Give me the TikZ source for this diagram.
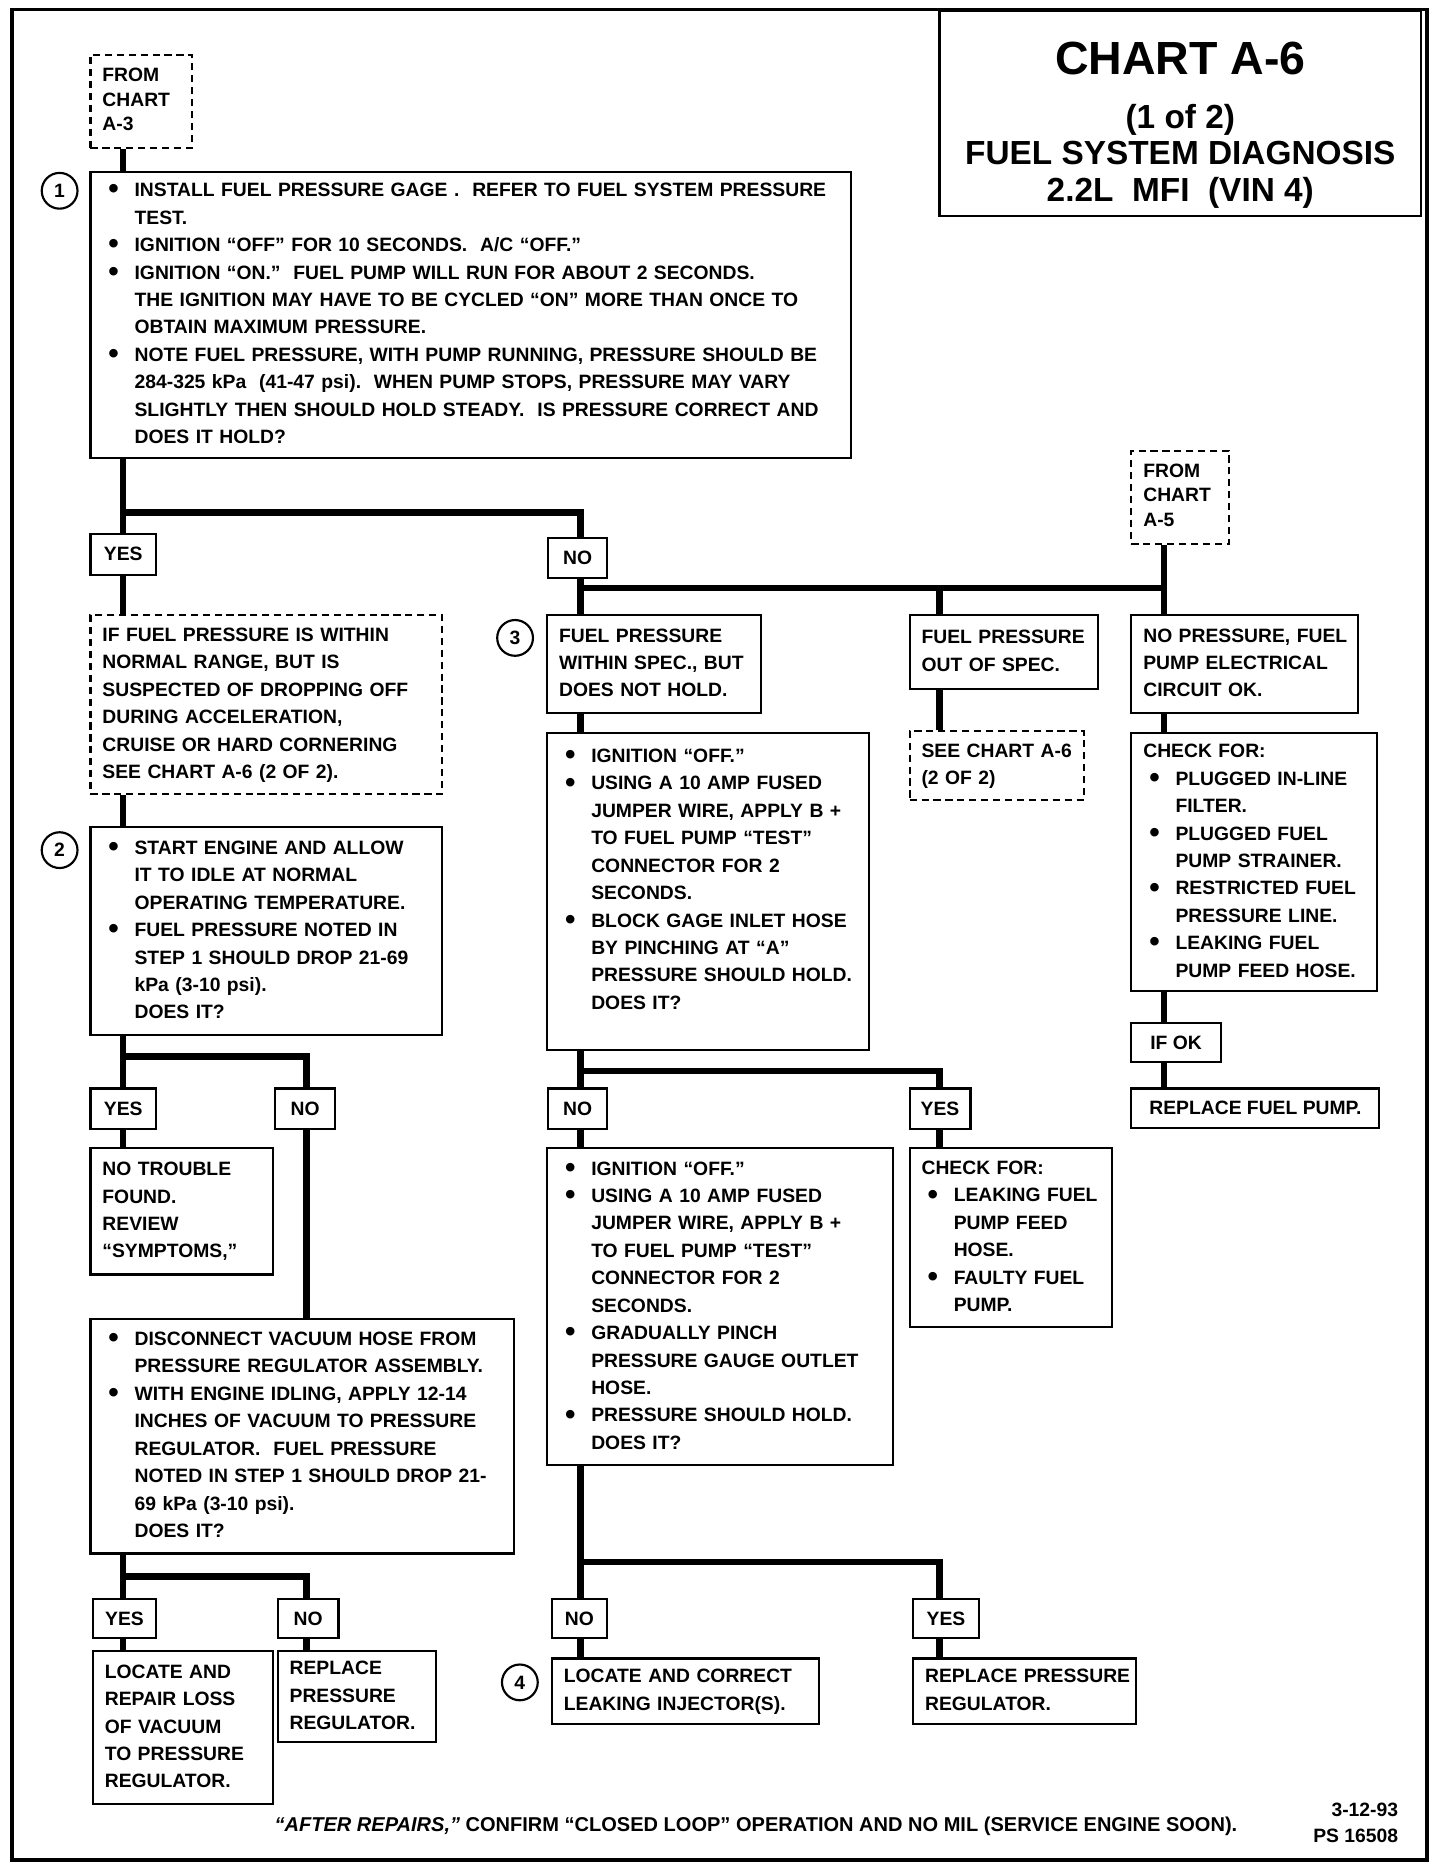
\documentclass[tikz,border=0pt]{standalone}
\usepackage{fontspec}
\setmainfont{Liberation Sans}
\usepackage{array}
\newcolumntype{B}{@{\hspace{2.5pt}}p{11pt}@{}l@{}}
\newcolumntype{T}{@{}l@{}}
\newcommand{\bu}{\raisebox{-0.9pt}{\fontsize{12.5}{12}\selectfont •}}
\begin{document}
\begin{tikzpicture}[x=0.5pt,y=-0.5pt,font=\fontsize{8.1}{11.5}\selectfont\bfseries]
\tikzset{
  conn/.style={line width=2.7pt, line join=miter},
  tbox/.style 2 args={draw, line width=0.9pt, anchor=north west, inner xsep=5pt, inner ysep=0pt,
    minimum width={#1*0.5pt}, minimum height={#2*0.5pt}, text width={#1*0.5pt-10pt}, align=left},
  dbox/.style 2 args={tbox={#1}{#2}, dash pattern=on 3pt off 2pt},
  lab/.style 2 args={draw, line width=0.9pt, anchor=north west, inner sep=0pt,
    minimum width={#1*0.5pt}, minimum height={#2*0.5pt}},
  circ/.style={draw, circle, line width=0.9pt, minimum size=15pt, inner sep=0pt},
  fromfont/.style={font=\fontsize{8.1}{10.25}\selectfont\bfseries}
}
\useasboundingbox (0,0) rectangle (1208,1565);
\draw[line width=1.5pt] (10,8) rectangle (1197,1560);

% trunk and junction coordinates
\coordinate (tA) at (103,0);
\coordinate (tB) at (257,0);
\coordinate (tC) at (487,0);
\coordinate (tD) at (788,0);
\coordinate (tE) at (976,0);
\coordinate (j1) at (0,430);
\coordinate (j2) at (0,493);
\coordinate (j3) at (0,898);
\coordinate (j4) at (0,1310);
\coordinate (j5) at (0,886);
\coordinate (j6) at (0,1322);

% title
\node[draw, line width=0.9pt, anchor=north west, minimum width=202pt, minimum height=86pt, inner sep=0pt,
  font=\fontsize{14}{15.5}\selectfont\bfseries] (title) at (787,8)
  {\begin{tabular}{@{}c@{}}\rule{0pt}{25.6pt}{\fontsize{19.5}{20}\selectfont CHART A-6}\\[7pt]
  (1 of 2)\\ FUEL SYSTEM DIAGNOSIS\\ 2.2L\ \ MFI\ \ (VIN 4)\end{tabular}};

% left column
\node[dbox={85}{78}, fromfont] (from3) at (75,45) {\begin{tabular}{T}FROM\\CHART\\A-3\end{tabular}};
\node[circ] (c1) at (50,160) {1};
\node[tbox={638}{240}] (b1) at (75,143) {\begin{tabular}{B}
\bu & INSTALL FUEL PRESSURE GAGE .\ \ REFER TO FUEL SYSTEM PRESSURE\\
 & TEST.\\
\bu & IGNITION “OFF” FOR 10 SECONDS.\ \ A/C “OFF.”\\
\bu & IGNITION “ON.”\ \ FUEL PUMP WILL RUN FOR ABOUT 2 SECONDS.\\
 & THE IGNITION MAY HAVE TO BE CYCLED “ON” MORE THAN ONCE TO\\
 & OBTAIN MAXIMUM PRESSURE.\\
\bu & NOTE FUEL PRESSURE, WITH PUMP RUNNING, PRESSURE SHOULD BE\\
 & 284-325 kPa\ \ (41-47 psi).\ \ WHEN PUMP STOPS, PRESSURE MAY VARY\\
 & SLIGHTLY THEN SHOULD HOLD STEADY.\ \ IS PRESSURE CORRECT AND\\
 & DOES IT HOLD?
\end{tabular}};
\node[lab={55}{34}] (yes1) at (75,447) {YES};
\node[lab={49}{34}] (no1) at (459,450) {NO};
\node[dbox={295}{150}] (dash1) at (75,515) {\begin{tabular}{T}
IF FUEL PRESSURE IS WITHIN\\
NORMAL RANGE, BUT IS\\
SUSPECTED OF DROPPING OFF\\
DURING ACCELERATION,\\
CRUISE OR HARD CORNERING\\
SEE CHART A-6 (2 OF 2).
\end{tabular}};
\node[circ] (c2) at (50,713) {2};
\node[tbox={295}{174}] (b2) at (75,693) {\begin{tabular}{B}
\bu & START ENGINE AND ALLOW\\
 & IT TO IDLE AT NORMAL\\
 & OPERATING TEMPERATURE.\\
\bu & FUEL PRESSURE NOTED IN\\
 & STEP 1 SHOULD DROP 21-69\\
 & kPa (3-10 psi).\\
 & DOES IT?
\end{tabular}};
\node[lab={55}{34}] (yes2) at (75,912) {YES};
\node[lab={50}{34}] (no2) at (230,912) {NO};
\node[tbox={153}{106}] (nt) at (75,962) {\begin{tabular}{T}
NO TROUBLE\\ FOUND.\\ REVIEW\\ “SYMPTOMS,”
\end{tabular}};
\node[tbox={355}{197}] (b4) at (75,1105) {\begin{tabular}{B}
\bu & DISCONNECT VACUUM HOSE FROM\\
 & PRESSURE REGULATOR ASSEMBLY.\\
\bu & WITH ENGINE IDLING, APPLY 12-14\\
 & INCHES OF VACUUM TO PRESSURE\\
 & REGULATOR.\ \ FUEL PRESSURE\\
 & NOTED IN STEP 1 SHOULD DROP 21-\\
 & 69 kPa (3-10 psi).\\
 & DOES IT?
\end{tabular}};
\node[lab={53}{33}] (yes3) at (77,1340) {YES};
\node[lab={51}{33}] (no3) at (232,1340) {NO};
\node[tbox={151}{128}] (loc) at (77,1384) {\begin{tabular}{T}
LOCATE AND\\ REPAIR LOSS\\ OF VACUUM\\ TO PRESSURE\\ REGULATOR.
\end{tabular}};
\node[tbox={133}{76}] (rreg) at (232,1384) {\begin{tabular}{T}
REPLACE\\ PRESSURE\\ REGULATOR.
\end{tabular}};

% middle and right columns
\node[dbox={82}{78}, fromfont] (from5) at (948,377) {\begin{tabular}{T}FROM\\CHART\\A-5\end{tabular}};
\node[circ] (c3) at (432,535) {3};
\node[tbox={179}{82}] (b3a) at (458,515) {\begin{tabular}{T}
FUEL PRESSURE\\ WITHIN SPEC., BUT\\ DOES NOT HOLD.
\end{tabular}};
\node[tbox={158}{62}] (oos) at (762,515) {\begin{tabular}{T}
FUEL PRESSURE\\ OUT OF SPEC.
\end{tabular}};
\node[tbox={190}{82}] (nop) at (948,515) {\begin{tabular}{T}
NO PRESSURE, FUEL\\ PUMP ELECTRICAL\\ CIRCUIT OK.
\end{tabular}};
\node[dbox={146}{58}] (see) at (762,612) {\begin{tabular}{T}
SEE CHART A-6\\ (2 OF 2)
\end{tabular}};
\node[tbox={270}{266}] (b3b) at (458,614) {\begin{tabular}{B}
\bu & IGNITION “OFF.”\\
\bu & USING A 10 AMP FUSED\\
 & JUMPER WIRE, APPLY B +\\
 & TO FUEL PUMP “TEST”\\
 & CONNECTOR FOR 2\\
 & SECONDS.\\
\bu & BLOCK GAGE INLET HOSE\\
 & BY PINCHING AT “A”\\
 & PRESSURE SHOULD HOLD.\\
 & DOES IT?\\[9.5pt]
\end{tabular}};
\node[tbox={206}{216}] (chk1) at (948,614) {\begin{tabular}{B}
\multicolumn{2}{@{}l@{}}{CHECK FOR:}\\
\bu & PLUGGED IN-LINE\\
 & FILTER.\\
\bu & PLUGGED FUEL\\
 & PUMP STRAINER.\\
\bu & RESTRICTED FUEL\\
 & PRESSURE LINE.\\
\bu & LEAKING FUEL\\
 & PUMP FEED HOSE.
\end{tabular}};
\node[lab={75}{33}] (ifok) at (948,857) {IF OK};
\node[lab={208}{33}] (rfp) at (948,912) {REPLACE FUEL PUMP.};
\node[lab={49}{34}] (no4) at (459,912) {NO};
\node[lab={51}{34}] (yes4) at (762,912) {YES};
\node[tbox={290}{266}] (b3c) at (458,962) {\begin{tabular}{B}
\bu & IGNITION “OFF.”\\
\bu & USING A 10 AMP FUSED\\
 & JUMPER WIRE, APPLY B +\\
 & TO FUEL PUMP “TEST”\\
 & CONNECTOR FOR 2\\
 & SECONDS.\\
\bu & GRADUALLY PINCH\\
 & PRESSURE GAUGE OUTLET\\
 & HOSE.\\
\bu & PRESSURE SHOULD HOLD.\\
 & DOES IT?
\end{tabular}};
\node[tbox={170}{150}] (chk2) at (762,962) {\begin{tabular}{B}
\multicolumn{2}{@{}l@{}}{CHECK FOR:}\\
\bu & LEAKING FUEL\\
 & PUMP FEED\\
 & HOSE.\\
\bu & FAULTY FUEL\\
 & PUMP.
\end{tabular}};
\node[lab={46}{33}] (no5) at (462,1340) {NO};
\node[lab={55}{33}] (yes5) at (765,1340) {YES};
\node[circ] (c4) at (436,1411) {4};
\node[tbox={224}{55}] (loc4) at (462,1390) {\begin{tabular}{T}
LOCATE AND CORRECT\\ LEAKING INJECTOR(S).
\end{tabular}};
\node[tbox={187}{55}] (rpr) at (765,1390) {\begin{tabular}{T}
REPLACE PRESSURE\\ REGULATOR.
\end{tabular}};

% footer
\node[font=\fontsize{8.4}{10}\selectfont\bfseries] (foot) at (634,1532)
  {{\itshape “AFTER REPAIRS,”} CONFIRM “CLOSED LOOP” OPERATION AND NO MIL (SERVICE ENGINE SOON).};
\node[anchor=east, align=right, inner sep=0pt, font=\fontsize{8.1}{11}\selectfont\bfseries] (ps) at (1173,1529)
  {3-12-93\\PS 16508};

% connectors, left
\draw[conn] (from3.south -| tA) -- (b1.north -| tA);
\draw[conn] (b1.south -| tA) -- (yes1.north -| tA);
\draw[conn] (tA |- j1) -- (tC |- j1) -- (no1.north -| tC);
\draw[conn] (yes1.south -| tA) -- (dash1.north -| tA);
\draw[conn] (dash1.south -| tA) -- (b2.north -| tA);
\draw[conn] (b2.south -| tA) -- (yes2.north -| tA);
\draw[conn] (tA |- j5) -- (tB |- j5) -- (no2.north -| tB);
\draw[conn] (yes2.south -| tA) -- (nt.north -| tA);
\draw[conn] (no2.south -| tB) -- (b4.north -| tB);
\draw[conn] (b4.south -| tA) -- (yes3.north -| tA);
\draw[conn] (tA |- j6) -- (tB |- j6) -- (no3.north -| tB);
\draw[conn] (yes3.south -| tA) -- (loc.north -| tA);
\draw[conn] (no3.south -| tB) -- (rreg.north -| tB);
% connectors, middle and right
\draw[conn] (no1.south -| tC) -- (b3a.north -| tC);
\draw[conn] (tC |- j2) -- (tE |- j2);
\draw[conn] (from5.south -| tE) -- (nop.north -| tE);
\draw[conn] (tD |- j2) -- (oos.north -| tD);
\draw[conn] (oos.south -| tD) -- (see.north -| tD);
\draw[conn] (b3a.south -| tC) -- (b3b.north -| tC);
\draw[conn] (nop.south -| tE) -- (chk1.north -| tE);
\draw[conn] (chk1.south -| tE) -- (ifok.north -| tE);
\draw[conn] (ifok.south -| tE) -- (rfp.north -| tE);
\draw[conn] (b3b.south -| tC) -- (no4.north -| tC);
\draw[conn] (tC |- j3) -- (tD |- j3) -- (yes4.north -| tD);
\draw[conn] (no4.south -| tC) -- (b3c.north -| tC);
\draw[conn] (yes4.south -| tD) -- (chk2.north -| tD);
\draw[conn] (b3c.south -| tC) -- (no5.north -| tC);
\draw[conn] (tC |- j4) -- (tD |- j4) -- (yes5.north -| tD);
\draw[conn] (no5.south -| tC) -- (loc4.north -| tC);
\draw[conn] (yes5.south -| tD) -- (rpr.north -| tD);
\end{tikzpicture}
\end{document}
